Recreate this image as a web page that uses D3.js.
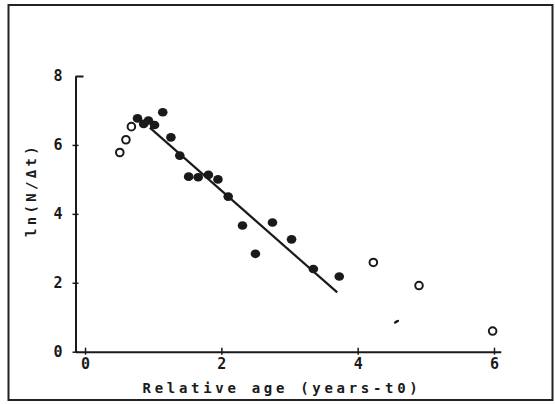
<!DOCTYPE html>
<html>
<head>
<meta charset="utf-8">
<script src="https://cdn.jsdelivr.net/npm/d3@7"></script>
<style>
  body { margin: 0; background: #fff; }
  text { font-family: "DejaVu Sans Mono", monospace; font-weight: bold; fill: #1a1a1a; }
</style>
</head>
<body>
<script>
// values
let xTicks = [0, 2, 4, 6];
let yTicks = [0, 2, 4, 6, 8];

// open circles (excluded from the fit)
let openX = [0.51, 0.60, 0.68, 4.23, 4.90, 5.98];
let openY = [5.78, 6.15, 6.53, 2.59, 1.92, 0.60];

// filled circles (used in the fit)
let fillX = [0.77, 0.86, 0.93, 1.02, 1.14, 1.26, 1.39, 1.52, 1.66, 1.81, 1.95, 2.10, 2.31, 2.50, 2.75, 3.03, 3.35, 3.73];
let fillY = [6.77, 6.61, 6.71, 6.58, 6.95, 6.22, 5.69, 5.08, 5.06, 5.13, 5.00, 4.50, 3.66, 2.84, 3.75, 3.26, 2.40, 2.18];

// regression line end points
let fitX = [0.95, 3.70];
let fitY = [6.50, 1.72];

// small dash mark near (4.57, 0.87)
let strayX = [4.57];
let strayY = [0.87];

let width = 555;
let height = 404;

let svg = d3.select("body").append("svg")
	.attr("width", width)
	.attr("height", height);

// frame
svg.append("rect")
	.attr("x", 8.5).attr("y", 5)
	.attr("width", 544).attr("height", 395)
	.attr("fill", "none")
	.attr("stroke", "#222")
	.attr("stroke-width", 2);

let x = d3.scaleLinear().domain([-0.14, 6.1]).range([75.5, 500.8]);
let y = d3.scaleLinear().domain([0, 8]).range([351.7, 76]);

let ink = "#1a1a1a";

// x axis
let gx = svg.append("g")
	.attr("transform", `translate(0,${y(0)})`)
	.call(d3.axisBottom(x).tickValues(xTicks).tickSizeOuter(0).tickPadding(3).tickFormat(d3.format("d")));
gx.select(".domain").attr("stroke", ink).attr("stroke-width", 2);
gx.selectAll(".tick line").attr("y1", -4).attr("y2", 3).attr("stroke", ink).attr("stroke-width", 1.5);
gx.selectAll(".tick text").attr("font-size", 15).attr("font-family", null).attr("dy", "0.55em");

// y axis
let gy = svg.append("g")
	.attr("transform", `translate(${x(-0.14)},0)`)
	.call(d3.axisLeft(y).tickValues(yTicks).tickSizeOuter(0).tickPadding(7).tickFormat(d3.format("d")));
gy.select(".domain").attr("stroke", ink).attr("stroke-width", 2);
gy.selectAll(".tick line")
	.attr("x1", d => d === 8 ? 0 : -3)
	.attr("x2", d => d === 8 ? 8 : 3)
	.attr("stroke", ink)
	.attr("stroke-width", d => d === 8 ? 2 : 1.5);
gy.selectAll(".tick text").attr("font-size", 15).attr("font-family", null);

// axis titles
svg.append("text")
	.attr("x", 282).attr("y", 393)
	.attr("text-anchor", "middle")
	.attr("font-size", 14)
	.attr("letter-spacing", 3.7)
	.text("Relative age (years-t0)");

svg.append("text")
	.attr("transform", "translate(36,190) rotate(-90)")
	.attr("text-anchor", "middle")
	.attr("font-size", 14)
	.attr("letter-spacing", 3.3)
	.text("ln(N/\u0394t)");

// fitted line
svg.append("line")
	.attr("x1", x(fitX[0])).attr("y1", y(fitY[0]))
	.attr("x2", x(fitX[1])).attr("y2", y(fitY[1]))
	.attr("stroke", ink)
	.attr("stroke-width", 2.2);

// filled points
svg.selectAll(".filled")
	.data(fillX.map((d, i) => ({x: d, y: fillY[i]})))
	.join("ellipse")
	.attr("class", "filled")
	.attr("cx", d => x(d.x))
	.attr("cy", d => y(d.y))
	.attr("rx", 4.8)
	.attr("ry", 4.3)
	.attr("fill", ink);

// open points
svg.selectAll(".open")
	.data(openX.map((d, i) => ({x: d, y: openY[i]})))
	.join("circle")
	.attr("class", "open")
	.attr("cx", d => x(d.x))
	.attr("cy", d => y(d.y))
	.attr("r", 3.8)
	.attr("fill", "#fff")
	.attr("stroke", ink)
	.attr("stroke-width", 2);

// stray dash
svg.selectAll(".stray")
	.data(strayX.map((d, i) => ({x: d, y: strayY[i]})))
	.join("ellipse")
	.attr("class", "stray")
	.attr("transform", d => `translate(${x(d.x)},${y(d.y)}) rotate(-30)`)
	.attr("rx", 3)
	.attr("ry", 1.3)
	.attr("fill", ink);
</script>
</body>
</html>
